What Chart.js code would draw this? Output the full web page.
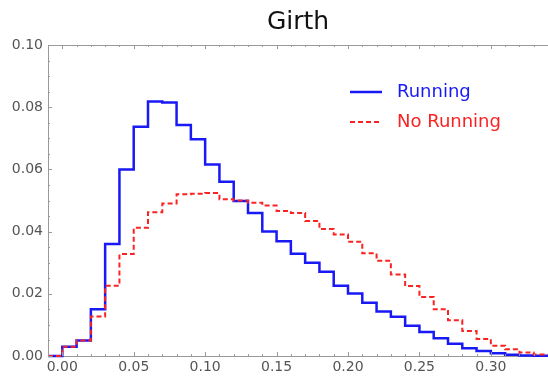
<!DOCTYPE html>
<html>
<head>
<meta charset="utf-8">
<script src="https://cdn.jsdelivr.net/npm/chart.js@4"></script>
<style>
  html, body { margin: 0; padding: 0; background: #fff; }
  canvas { display: block; }
</style>
</head>
<body>
<canvas id="girthChart" width="548" height="379"></canvas>
<script>
// left edge of each bin (width 0.01)
const binStarts = [-0.01, 0.00, 0.01, 0.02, 0.03, 0.04, 0.05, 0.06, 0.07, 0.08, 0.09,
	0.10, 0.11, 0.12, 0.13, 0.14, 0.15, 0.16, 0.17, 0.18, 0.19,
	0.20, 0.21, 0.22, 0.23, 0.24, 0.25, 0.26, 0.27, 0.28, 0.29,
	0.30, 0.31, 0.32, 0.33];
const binEnd = 0.34;

const running = [0, 0.003, 0.005, 0.015, 0.036, 0.060, 0.0737, 0.0818, 0.0815, 0.0743, 0.0697,
	0.0616, 0.0560, 0.0498, 0.0460, 0.0400, 0.0369, 0.0329, 0.0300, 0.0271, 0.0226,
	0.0201, 0.0171, 0.0143, 0.0126, 0.0097, 0.0077, 0.0057, 0.0039, 0.0025, 0.0016,
	0.0009, 0.0004, 0.0002, 0.0001];

const noRunning = [0, 0.003, 0.005, 0.0127, 0.0226, 0.0328, 0.0412, 0.0462, 0.0490, 0.0520, 0.0522,
	0.0524, 0.0504, 0.0500, 0.0493, 0.0484, 0.0466, 0.0460, 0.0434, 0.0408, 0.0391,
	0.0367, 0.0330, 0.0306, 0.0262, 0.0225, 0.0190, 0.0150, 0.0115, 0.0080, 0.0055,
	0.0033, 0.0022, 0.0011, 0.0005];

const xTicks = [0.00, 0.05, 0.10, 0.15, 0.20, 0.25, 0.30];
const yTicks = [0.00, 0.02, 0.04, 0.06, 0.08, 0.10];

const blue = "rgb(25, 25, 245)";
const red = "rgb(250, 35, 35)";
const frameColor = "#9a9a9a";
const labelFont = "DejaVu Sans";

function toSteps(values) {
	const pts = binStarts.map((x, i) => ({ x: x, y: values[i] }));
	pts.push({ x: binEnd, y: values[values.length - 1] });
	return pts;
}

// frame ticks pointing inward, plus the top frame line
const frameTicks = {
	id: "frameTicks",
	afterDraw(chart) {
		const ctx = chart.ctx;
		const area = chart.chartArea;
		const xs = chart.scales.x;
		const ys = chart.scales.y;
		ctx.save();
		ctx.strokeStyle = frameColor;
		ctx.lineWidth = 1;
		ctx.beginPath();
		ctx.moveTo(area.left, area.top + 0.5);
		ctx.lineTo(area.right, area.top + 0.5);
		for (let i = -1; i <= 34; i++) {
			const px = Math.round(xs.getPixelForValue(i / 100)) + 0.5;
			const len = i % 5 === 0 ? 4 : 2;
			ctx.moveTo(px, area.bottom);
			ctx.lineTo(px, area.bottom - len);
			ctx.moveTo(px, area.top);
			ctx.lineTo(px, area.top + len);
		}
		for (let j = 0; j <= 20; j++) {
			const py = Math.round(ys.getPixelForValue(j / 200)) + 0.5;
			const len = j % 4 === 0 ? 4 : 2;
			ctx.moveTo(area.left, py);
			ctx.lineTo(area.left + len, py);
		}
		ctx.stroke();
		ctx.restore();
	}
};

// legend with coloured text, as in the original
const sideLegend = {
	id: "sideLegend",
	afterDraw(chart) {
		const ctx = chart.ctx;
		const items = [
			{ text: "Running", color: blue, dash: [], y: 92 },
			{ text: "No Running", color: red, dash: [5, 3], y: 122 }
		];
		ctx.save();
		ctx.font = "18px '" + labelFont + "'";
		ctx.textBaseline = "middle";
		items.forEach(it => {
			ctx.strokeStyle = it.color;
			ctx.lineWidth = it.dash.length ? 2 : 2.5;
			ctx.setLineDash(it.dash);
			ctx.beginPath();
			ctx.moveTo(350, it.y);
			ctx.lineTo(382, it.y);
			ctx.stroke();
			ctx.fillStyle = it.color;
			ctx.fillText(it.text, 397, it.y);
		});
		ctx.restore();
	}
};

const ctx = document.getElementById("girthChart").getContext("2d");
new Chart(ctx, {
	type: "line",
	data: {
		datasets: [{
			label: "Running",
			data: toSteps(running),
			borderColor: blue,
			borderWidth: 2.5,
			stepped: "before",
			pointRadius: 0,
			fill: false,
			clip: 3,
			order: 2
		}, {
			label: "No Running",
			data: toSteps(noRunning),
			borderColor: red,
			borderWidth: 2,
			borderDash: [5, 3],
			stepped: "before",
			pointRadius: 0,
			fill: false,
			clip: 3,
			order: 1
		}]
	},
	options: {
		responsive: false,
		animation: false,
		layout: { padding: 0 },
		plugins: {
			legend: { display: false },
			tooltip: { enabled: false },
			title: {
				display: true,
				text: "Girth",
				fullSize: false,
				color: "#111",
				font: { family: labelFont, size: 25, weight: "normal" },
				padding: { top: 7, bottom: 8 }
			}
		},
		scales: {
			x: {
				type: "linear",
				min: -0.01,
				max: 0.34,
				afterBuildTicks: scale => { scale.ticks = xTicks.map(v => ({ value: v })); },
				afterFit: scale => { scale.height = 23; },
				grid: { display: false, drawTicks: false },
				border: { display: true, color: frameColor, width: 1 },
				ticks: {
					color: "#555",
					font: { family: labelFont, size: 14 },
					padding: 3,
					maxRotation: 0,
					callback: v => v.toFixed(2)
				}
			},
			y: {
				type: "linear",
				min: 0,
				max: 0.10,
				afterBuildTicks: scale => { scale.ticks = yTicks.map(v => ({ value: v })); },
				afterFit: scale => { scale.width = 48; },
				grid: { display: false, drawTicks: false },
				border: { display: true, color: frameColor, width: 1 },
				ticks: {
					color: "#555",
					font: { family: labelFont, size: 14 },
					padding: 5,
					callback: v => v.toFixed(2)
				}
			}
		}
	},
	plugins: [frameTicks, sideLegend]
});
</script>
</body>
</html>
